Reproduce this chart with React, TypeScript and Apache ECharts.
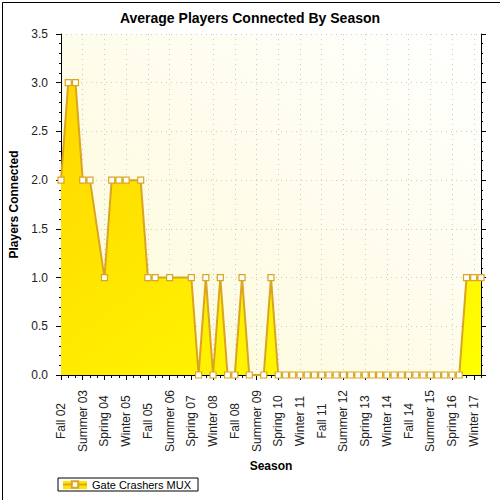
import React, { useEffect, useRef } from "react";
import * as echarts from "echarts";

const categories = [
  "Fall 02", "Winter 03", "Spring 03", "Summer 03",
  "Fall 03", "Winter 04", "Spring 04", "Summer 04",
  "Fall 04", "Winter 05", "Spring 05", "Summer 05",
  "Fall 05", "Winter 06", "Spring 06", "Summer 06",
  "Fall 06", "Winter 07", "Spring 07", "Summer 07",
  "Fall 07", "Winter 08", "Spring 08", "Summer 08",
  "Fall 08", "Winter 09", "Spring 09", "Summer 09",
  "Fall 09", "Winter 10", "Spring 10", "Summer 10",
  "Fall 10", "Winter 11", "Spring 11", "Summer 11",
  "Fall 11", "Winter 12", "Spring 12", "Summer 12",
  "Fall 12", "Winter 13", "Spring 13", "Summer 13",
  "Fall 13", "Winter 14", "Spring 14", "Summer 14",
  "Fall 14", "Winter 15", "Spring 15", "Summer 15",
  "Fall 15", "Winter 16", "Spring 16", "Summer 16",
  "Fall 16", "Winter 17", "Spring 17",
];

const players: (number | null)[] = [
  2, 3, 3, 2, 2, null, 1, 2, 2, 2,
  null, 2, 1, 1, null, 1, null, null, 1, 0,
  1, 0, 1, 0, 0, 1, 0, null, 0, 1,
  0, 0, 0, 0, 0, 0, 0, 0, 0, 0,
  0, 0, 0, 0, 0, 0, 0, 0, 0, 0,
  0, 0, 0, 0, 0, 0, 1, 1, 1,
];

const seriesName = "Gate Crashers MUX";
const yMin = 0;
const yMax = 3.5;
const yStep = 0.5;

const FONT = "'Liberation Sans', Arial, sans-serif";

export default function App() {
  const ref = useRef<HTMLDivElement>(null);

  useEffect(() => {
    if (!ref.current) return;
    const chart = echarts.init(ref.current, undefined, { renderer: "svg" });
    const gridLeft = 61;
    const gridTop = 34;
    const gridRight = 19;
    const gridBottom = 125;

    const option: any = {
      animation: false,
      backgroundColor: "#ffffff",
      textStyle: { fontFamily: FONT },
      title: {
        text: "Average Players Connected By Season",
        left: "center",
        top: 6,
        textStyle: { fontFamily: FONT, fontSize: 14, fontWeight: "bold", color: "#000" },
      },
      grid: {
        left: gridLeft,
        top: gridTop,
        right: gridRight,
        bottom: gridBottom,
        show: true,
        borderWidth: 0,
        backgroundColor: new echarts.graphic.LinearGradient(0, 1, 1, 0, [
          { offset: 0, color: "#fdfad6" },
          { offset: 1, color: "#ffffff" },
        ]),
      },
      legend: {
        left: 58,
        top: 478,
        padding: [1, 7, 1, 4],
        borderColor: "#000",
        borderWidth: 1,
        itemWidth: 24,
        itemHeight: 8,
        itemGap: 6,
        textStyle: { fontFamily: FONT, fontSize: 11, color: "#000" },
        data: [seriesName],
      },
      xAxis: [
        {
          type: "category",
          data: categories,
          boundaryGap: false,
          position: "bottom",
          name: "Season",
          nameLocation: "middle",
          nameGap: 82,
          nameTextStyle: { fontFamily: FONT, fontSize: 12, fontWeight: "bold", color: "#000" },
          axisLine: { show: true, lineStyle: { color: "#000", width: 1 } },
          axisTick: { show: true, interval: 2, length: 5, lineStyle: { color: "#000" } },
          axisLabel: {
            interval: 2,
            rotate: 90,
            align: "center",
            verticalAlign: "middle",
            margin: 46,
            fontFamily: FONT,
            fontSize: 12,
            color: "#222",
          },
          splitLine: {
            show: true,
            interval: 2,
            lineStyle: { color: "#cccccc", type: [1, 4], width: 1 },
          },
        },
        {
          type: "category",
          data: categories,
          boundaryGap: false,
          position: "bottom",
          axisLine: { show: false },
          axisTick: { show: true, interval: 0, length: 3, lineStyle: { color: "#000" } },
          axisLabel: { show: false },
          splitLine: { show: false },
        },
      ],
      yAxis: [
        {
          type: "value",
          min: yMin,
          max: yMax,
          interval: yStep,
          position: "left",
          name: "Players Connected",
          nameLocation: "middle",
          nameGap: 39,
          nameTextStyle: { fontFamily: FONT, fontSize: 12, fontWeight: "bold", color: "#000" },
          axisLine: { show: true, lineStyle: { color: "#000", width: 1 } },
          axisTick: { show: true, length: 5, lineStyle: { color: "#000" } },
          minorTick: { show: true, splitNumber: 5, length: 2, lineStyle: { color: "#000" } },
          axisLabel: {
            margin: 13,
            fontFamily: FONT,
            fontSize: 12,
            color: "#222",
            formatter: (v: number) => v.toFixed(1),
          },
          splitLine: {
            show: true,
            lineStyle: { color: "#cccccc", type: [1, 4], width: 1 },
          },
        },
        {
          type: "value",
          min: yMin,
          max: yMax,
          interval: yStep,
          position: "right",
          axisLine: { show: true, lineStyle: { color: "#000", width: 1 } },
          axisTick: { show: true, length: 5, lineStyle: { color: "#000" } },
          minorTick: { show: true, splitNumber: 5, length: 2, lineStyle: { color: "#000" } },
          axisLabel: { show: false },
          splitLine: { show: false },
        },
      ],
      series: [
        {
          name: seriesName,
          type: "line",
          xAxisIndex: 0,
          yAxisIndex: 0,
          data: players,
          connectNulls: true,
          showAllSymbol: true,
          symbol: "rect",
          symbolSize: 6,
          lineStyle: { color: "#DAA520", width: 2 },
          itemStyle: { color: "#ffffff", borderColor: "#DAA520", borderWidth: 1.2 },
          areaStyle: {
            opacity: 1,
            color: new echarts.graphic.LinearGradient(0, 0, 1, 1, [
              { offset: 0, color: "#FFD700" },
              { offset: 1, color: "#FFFF00" },
            ]),
          },
          emphasis: { disabled: true },
          z: 3,
        },
      ],
      graphic: [
        {
          type: "rect",
          left: 0,
          top: 0,
          shape: { x: 0.5, y: 0.5, width: 499, height: 499 },
          style: { fill: "none", stroke: "#000", lineWidth: 1 },
          silent: true,
          z: 100,
        },
        {
          type: "rect",
          left: 63,
          top: 481,
          shape: { width: 24, height: 8 },
          style: { fill: "#FFE500" },
          silent: true,
          z: -1,
        },
      ],
    };

    chart.setOption(option);
    return () => {
      chart.dispose();
    };
  }, []);

  return (
    <div
      ref={ref}
      style={{ position: "fixed", left: 0, top: 0, width: 500, height: 500 }}
    />
  );
}
